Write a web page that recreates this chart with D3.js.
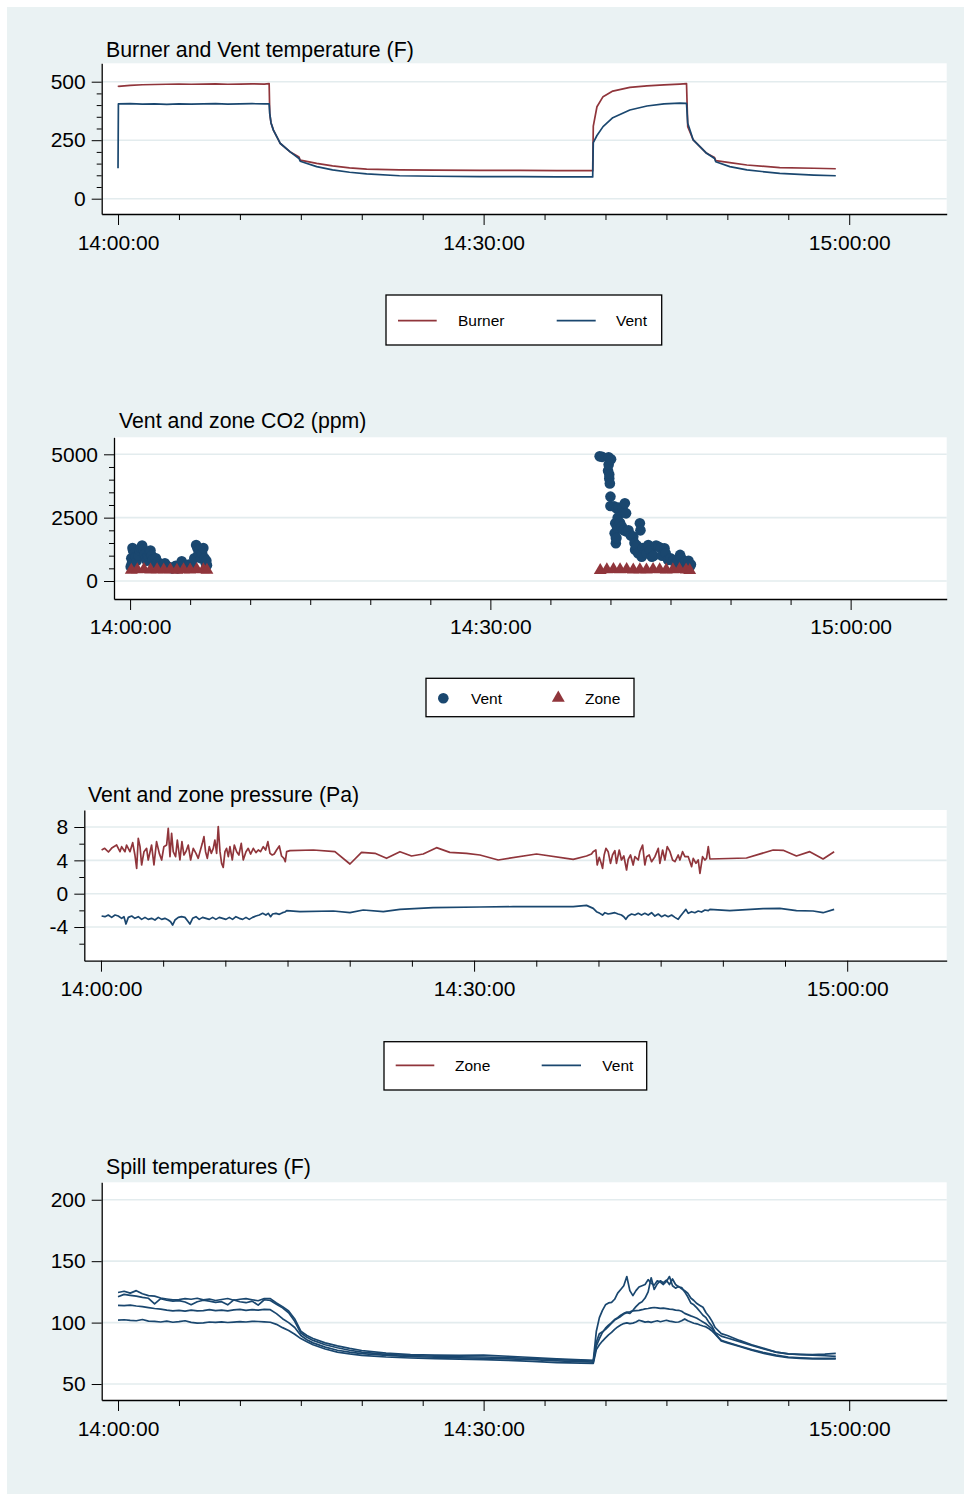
<!DOCTYPE html>
<html>
<head>
<meta charset="utf-8">
<script src="https://d3js.org/d3.v7.min.js"></script>
<style>
body { margin: 0; background: #fff; }
svg { display: block; font-family: "Liberation Sans", Arial, Helvetica, sans-serif; }
</style>
</head>
<body>
<svg width="964" height="1494"></svg>
<script>
// all times are minutes after 14:00:00

// burner and vent temperature (F)
var tempMinutes = [0, 0.03, 1, 2, 3, 4, 5, 6, 7, 8, 9, 10, 11, 12, 12.4, 12.45, 12.55, 12.75, 13.3, 14.1, 14.85, 14.95,
  16.3, 17.6, 19, 20.4, 23.1, 26, 29.7, 33, 36, 38.95, 39.0, 39.3, 39.8, 40.6, 42, 43.4, 44.8, 46.1, 46.65, 46.75,
  47.2, 48.3, 48.95, 49.05, 50.2, 51.6, 54.3, 57.1, 58.9];
var burnerTemp = [478, 480, 484, 487, 488, 489, 490, 489, 490, 491, 489, 490, 491, 490, 492, 365, 325, 293, 237, 201, 178, 165,
  151, 140, 132, 126, 123, 122, 121, 121, 120, 120, 310, 393, 436, 460, 476, 482, 486, 490, 492, 308,
  251, 194, 176, 163, 154, 144, 133, 130, 128];
var ventTemp = [130, 405, 406, 404, 405, 403, 405, 404, 405, 406, 404, 405, 406, 405, 405, 365, 325, 293, 237, 201, 172, 160,
  137, 123, 113, 106, 98, 96, 94, 94, 93, 93, 240, 270, 308, 346, 379, 396, 405, 408, 407, 322,
  251, 194, 172, 158, 137, 123, 108, 101, 98];

// vent and zone CO2 (ppm)
var co2VentMinutes = [0.05, 0.1, 0.15, 0.2, 0.25, 0.35, 0.45, 0.55, 0.7, 0.8, 0.9, 1.0, 1.1, 1.2, 1.3, 1.4, 1.5, 1.6, 1.7,
  1.8, 1.9, 2.0, 2.15, 2.3, 2.45, 2.6, 2.75, 2.9, 3.05, 3.2, 3.35, 3.5, 3.65, 3.8, 3.95, 4.1, 4.2, 4.3, 4.45, 4.6,
  4.75, 4.9, 5.05, 5.2, 5.35, 5.5, 5.6, 5.7, 5.8, 5.9, 6.0, 6.1, 6.2, 6.3, 6.35, 6.4,
  39.1, 39.3, 39.8, 39.85, 39.85, 39.9, 39.9, 39.95, 40.0, 40.0, 40.05, 40.3, 40.35, 40.4, 40.45, 40.45, 40.5, 40.5,
  40.55, 40.6, 40.7, 40.8, 40.95, 41.0, 41.1, 41.15, 41.2, 41.3, 41.35, 41.5, 41.7, 41.9, 42.0, 42.05, 42.2, 42.3,
  42.45, 42.5, 42.6, 42.7, 42.9, 43.0, 43.15, 43.3, 43.45, 43.6, 43.8, 44.0, 44.2, 44.3, 44.5, 44.6, 44.8, 45.0,
  45.25, 45.4, 45.6, 45.8, 45.9, 46.0, 46.25, 46.4, 46.5, 46.6, 46.7];
var co2Vent = [560, 900, 700, 1300, 1200, 1100, 950, 800, 1000, 1200, 1300, 1400, 1250, 1050, 900, 800, 1000, 1150, 1200,
  1000, 850, 700, 900, 750, 650, 600, 650, 700, 600, 550, 520, 500, 550, 600, 500, 550, 650, 780, 600, 600,
  550, 650, 600, 550, 900, 1420, 1300, 1100, 1250, 900, 1100, 1300, 900, 700, 800, 620,
  4920, 4900, 4350, 4880, 4600, 4050, 4200, 3850, 3330, 2960, 4800, 2950, 1880, 2280, 1490, 1700, 2870, 1700,
  2100, 2500, 2900, 2300, 2150, 2900, 2000, 2700, 3070, 2670, 1950, 2000, 1800, 1750, 1500, 1230, 1400, 1100,
  2280, 2000, 960, 1300, 1200, 1100, 1420, 1200, 960, 1000, 1400, 1350, 1300, 1000, 1290, 1100, 830, 900,
  830, 700, 800, 1030, 900, 700, 760, 600, 800, 560, 650];
var co2ZoneMinutes = [0.1, 0.6, 1.15, 1.7, 2.25, 2.8, 3.35, 3.9, 4.45, 5.0, 5.55, 6.1, 6.4,
  39.15, 39.7, 40.25, 40.8, 41.35, 41.9, 42.45, 43.0, 43.55, 44.1, 44.65, 45.2, 45.75, 46.3, 46.6];
var co2Zone = [430, 450, 460, 440, 450, 440, 450, 430, 450, 440, 460, 450, 430,
  420, 450, 460, 450, 460, 440, 450, 440, 460, 450, 440, 450, 460, 440, 420];

// vent and zone pressure (Pa)
var pressZoneMinutes = [0.05, 0.3, 0.6, 0.9, 1.26, 1.53, 1.66, 1.93, 2.06, 2.33, 2.55, 2.73, 2.87, 3.0, 3.14, 3.27, 3.46, 3.67,
  3.8, 4.07, 4.26, 4.47, 4.69, 4.88, 5.06, 5.28, 5.41, 5.55, 5.68, 5.81, 6.0, 6.14, 6.35, 6.51, 6.67, 6.83, 7.02,
  7.21, 7.42, 7.64, 7.82, 7.96, 8.15, 8.28, 8.41, 8.55, 8.71, 8.87, 9.03, 9.16, 9.3, 9.43, 9.57, 9.7, 9.83, 9.97,
  10.1, 10.24, 10.37, 10.56, 10.72, 10.91, 11.09, 11.28, 11.44, 11.66, 11.84, 12.03, 12.25, 12.46, 12.65, 12.83,
  13.05, 13.24, 13.42, 13.59, 13.77, 13.93, 14.12, 14.34, 14.52, 14.71, 14.82, 14.93,
  15.19, 17.07, 18.81, 20.02, 20.95, 22.03, 22.96, 24.04, 24.97, 25.91, 26.98, 28.05, 29.39, 30.47, 31.94, 35.02,
  37.97, 39.04, 39.44,
  39.57, 39.79, 39.9, 40.06, 40.22, 40.33, 40.46, 40.6, 40.78, 40.97, 41.13, 41.32, 41.45, 41.67, 41.85, 42.04,
  42.26, 42.39, 42.58, 42.79, 42.93, 43.2, 43.33, 43.55, 43.73, 43.87, 44.08, 44.27, 44.54, 44.81, 44.94, 45.16,
  45.34, 45.53, 45.75, 45.96, 46.15, 46.41, 46.55, 46.76, 46.95, 47.22, 47.49, 47.62, 47.84, 48.02, 48.16, 48.37,
  48.56, 48.69, 48.83, 48.96,
  51.9, 54.05, 54.85, 55.92, 56.99, 58.06, 58.95];
var pressZone = [5.24, 5.44, 5.0, 5.52, 5.84, 5.04, 5.64, 5.04, 5.84, 5.04, 6.12, 4.64, 3.04, 6.64, 5.64, 3.44, 5.04, 5.44,
  4.04, 5.84, 3.44, 6.24, 4.84, 4.04, 5.64, 5.84, 7.84, 4.44, 7.24, 5.04, 4.44, 6.44, 4.04, 6.24, 4.64, 5.04, 5.84,
  4.04, 5.44, 4.84, 4.24, 5.04, 6.04, 6.84, 5.04, 4.24, 5.64, 4.84, 5.44, 6.44, 4.84, 8.04, 5.04, 3.64, 3.16, 5.04,
  5.44, 4.44, 5.64, 4.04, 5.84, 5.04, 4.64, 6.04, 4.04, 5.04, 5.44, 4.76, 5.44, 4.92, 5.24, 5.04,
  5.64, 5.24, 6.24, 4.84, 4.64, 4.76, 5.24, 5.72, 4.52, 4.24, 3.84, 5.04,
  5.16, 5.24, 5.04, 3.56, 4.96, 4.84, 4.24, 5.04, 4.52, 4.76, 5.52, 4.96, 4.84, 4.64, 4.04, 4.76,
  4.12, 4.52, 4.76,
  5.04, 5.24, 3.44, 4.36, 3.64, 3.04, 4.64, 5.44, 5.04, 3.64, 4.64, 5.16, 3.64, 5.24, 4.04, 4.52,
  2.84, 4.12, 4.64, 3.44, 4.44, 4.04, 5.04, 5.84, 3.44, 4.44, 4.64, 3.84, 4.44, 5.44, 3.64, 5.24,
  4.04, 5.64, 5.04, 4.04, 3.84, 4.64, 4.04, 5.04, 4.44, 4.44, 3.24, 4.24, 3.64, 4.04, 2.44, 4.44,
  4.04, 4.24, 5.64, 4.16,
  4.28, 5.24, 5.2, 4.52, 5.04, 4.16, 5.04];
var pressVentMinutes = [0.05, 0.32, 0.59, 0.86, 1.13, 1.39, 1.66, 1.85, 2.01, 2.2, 2.47, 2.73, 3.0, 3.27, 3.54, 3.8, 4.07,
  4.34, 4.61, 4.88, 5.14, 5.41, 5.6, 5.76, 5.95, 6.22, 6.48, 6.75, 7.02, 7.15, 7.37, 7.64, 7.9, 8.17, 8.44, 8.71,
  8.98, 9.24, 9.51, 9.78, 10.05, 10.32, 10.58, 10.85, 11.12, 11.39, 11.66, 11.92, 12.19, 12.46, 12.73, 13.0, 13.26,
  13.45, 13.64, 13.8, 14.07, 14.34, 14.6, 14.79, 14.93,
  16.0, 18.68, 20.02, 21.09, 22.7, 24.04, 26.71, 30.47, 33.14, 35.82, 37.97, 39.04,
  39.58, 39.84, 40.11, 40.33, 40.52, 40.78, 41.05, 41.32, 41.58, 41.85, 42.04, 42.2, 42.39, 42.66, 42.93, 43.2,
  43.46, 43.73, 44.0, 44.27, 44.54, 44.81, 45.07, 45.34, 45.61, 45.88, 46.15, 46.41, 46.6, 46.81, 47.03, 47.22,
  47.49, 47.75, 48.02, 48.29, 48.56, 48.83, 48.96,
  50.56, 53.24, 54.58, 55.92, 57.26, 58.06, 58.95];
var pressVent = [-2.68, -2.76, -2.56, -2.84, -2.56, -2.68, -2.96, -2.76, -3.64, -2.84, -2.68, -2.96, -2.76, -3.08, -2.84,
  -3.08, -2.96, -3.16, -2.84, -3.08, -2.96, -3.16, -3.36, -3.76, -3.16, -2.84, -2.76, -2.84, -3.36, -3.64, -2.96,
  -2.76, -3.08, -2.84, -2.96, -3.08, -2.84, -3.08, -2.84, -2.96, -3.08, -2.84, -3.08, -2.76, -2.96, -3.08, -2.84,
  -3.08, -2.84, -2.68, -2.56, -2.36, -2.56, -2.36, -2.76, -2.44, -2.36, -2.48, -2.28, -2.2, -2.04,
  -2.16, -2.08, -2.28, -1.96, -2.16, -1.88, -1.68, -1.6, -1.56, -1.56, -1.56, -1.4,
  -1.76, -2.16, -2.36, -2.56, -2.28, -2.44, -2.36, -2.28, -2.44, -2.56, -2.76, -3.08, -2.68, -2.44, -2.56, -2.36,
  -2.56, -2.36, -2.56, -2.28, -2.68, -2.44, -2.76, -2.56, -2.76, -2.56, -2.84, -3.08, -2.68, -2.28, -1.88, -2.36,
  -2.16, -2.28, -2.08, -2.2, -1.96, -2.04, -1.88,
  -2.04, -1.8, -1.76, -2.04, -2.08, -2.28, -1.88];

// spill temperatures (F), four sensors
var spillMinutes = [0, 0.5, 1, 1.5, 2, 2.5, 3, 3.5, 4, 4.5, 5, 5.5, 6, 6.5, 7, 7.5, 8, 8.5, 9, 9.5, 10, 10.5, 11, 11.5, 12,
  12.5, 13, 13.5, 14, 14.5, 15, 15.5, 16, 17, 18, 19, 20, 22, 24, 26, 28, 30, 32, 34, 36, 38,
  39, 39.25, 39.5, 39.75, 40, 40.25, 40.5, 40.75, 41, 41.25, 41.5, 41.75, 42, 42.25, 42.5, 42.75, 43, 43.25, 43.5,
  43.75, 44, 44.25, 44.5, 44.75, 45, 45.25, 45.5, 45.75, 46, 46.25, 46.5, 46.75, 47, 47.25, 47.5, 47.75, 48, 48.25,
  48.5, 48.75, 49,
  49.5, 50, 51, 52, 53, 54, 55, 56, 57, 58, 58.9];
var spill1 = [102, 102.3, 101.8, 101.5, 102.5, 101.2, 101, 100.5, 101.2, 100.3, 100.8, 101.5, 100.2, 99.6, 99.8, 100.5,
  100.2, 100.6, 100.1, 100.4, 100.8, 100.5, 101, 100.9, 100.6,
  100.3, 98.6, 95.9, 93.5, 90.5, 87, 84.5, 82, 78.5, 76, 74.5, 73.3, 72, 71.2, 70.7, 70.3, 69.8, 69.3, 68.5, 67.5, 67,
  66.8, 78, 82, 85, 87.5, 90, 92, 94.5, 96.5, 98, 99.2, 99.8, 99.2, 99.6, 100.5, 101.9, 101.2, 100.4, 100.8, 100.2,
  100.9, 101.5, 100.7, 101.3, 101.9, 101.2, 100.8, 100.3, 100.5, 101.5, 103, 101.5, 100.5, 99.5, 99, 98, 97.2, 96.5,
  95, 93, 90.5,
  85, 83.5, 80.5, 77.5, 75, 72.8, 71.5, 70.9, 70.5, 70.4, 70.4];
var spill2 = [114, 113.8, 114.2, 113.5, 113, 112.2, 111.5, 111, 110.2, 109.6, 110, 109.4, 110.2, 109.5, 109.8, 110.5,
  109.7, 110.2, 109.6, 110.3, 110.8, 110, 110.5, 110.2, 110.8,
  110.5, 107.3, 103.2, 100, 96, 89.5, 86, 83.5, 80, 77.5, 76, 74.8, 73.3, 72.3, 71.8, 71.3, 71, 70.5, 69.8, 68.8, 68.2,
  67.8, 81, 87, 92, 95.5, 98, 100, 102.5, 104, 106, 107.5, 108.5, 108.8, 109.5, 109.8, 110, 110.5, 111.2, 111.5, 112,
  112.3, 112, 111.6, 111.8, 111.4, 111, 110.8, 110.2, 110, 109.2, 107.5, 106.5, 105.5, 104.6, 103.5, 102, 100.5, 99,
  97, 95, 91,
  85.5, 84, 81, 78, 75.5, 73.5, 72, 71.4, 71, 70.9, 71];
var spill3 = [121, 123, 122.2, 121.5, 120.5, 119.8, 115.2, 119.5, 118.2, 117.5, 117.9, 116.8, 114.6, 117, 118.2, 117.5,
  116.5, 117, 114.5, 118.5, 117, 116.2, 117.5, 114.2, 118.6,
  118, 115, 112, 108, 101, 91.5, 88, 85.5, 82, 79.5, 77.5, 76, 74.2, 73.2, 72.6, 72.2, 72, 71.5, 70.8, 69.8, 69.2,
  68.8, 84, 91, 92.5, 94.5, 97, 99.5, 102, 103.5, 105, 107, 108, 107.5, 110, 113, 115.5, 117, 120, 125, 136.5,
  127, 131.5, 134, 132.5, 134.5, 131, 135.5, 131, 129, 128.5, 125, 121, 116, 114.5, 112, 109, 106, 104,
  100, 97, 92,
  89, 87.5, 84.5, 81.5, 78.5, 76, 74.6, 74, 73.5, 73, 72.5];
var spill4 = [124.5, 125.5, 124, 126, 123.5, 122, 121.5, 120, 119.2, 118.5, 118.8, 119.5, 119, 119.8, 118.5, 119.2,
  118, 118.8, 119.6, 118.2, 119, 119.5, 118.6, 117.8, 119.6,
  119.5, 116, 113, 109.5, 103, 93, 89.5, 87, 83.5, 81, 79, 77.3, 75.2, 74, 73.5, 73.4, 73.5, 72.6, 71.6, 70.4, 69.6,
  69.2, 93, 104, 110, 114.5, 116, 116.5, 119, 124, 127, 130, 137.5, 126, 122, 126, 129, 130, 131, 135, 132,
  130.5, 134, 133, 131, 133.5, 137.5, 130, 128, 129.5, 127.5, 126, 124, 120, 118, 115.5, 114, 112.5, 108,
  105, 101, 96,
  91, 89.5, 85.5, 82, 79, 76, 74.5, 74.2, 74, 74.3, 75];

// x axis ticks (minutes) shared by all four graphs
var majorMinutes = [0, 30, 60];
var minorMinutes = [5, 10, 15, 20, 25, 35, 40, 45, 50, 55];

var navy = "#1a476f",
    maroon = "#90353b",
    bgColor = "#eaf2f3",
    gridColor = "#e3ecee",
    fontFam = "'Liberation Sans', Arial, Helvetica, sans-serif";

var start = new Date(2000, 0, 1, 14, 0, 0);
function toTime(m) { return new Date(start.getTime() + m * 60000); }
var timeFmt = d3.timeFormat("%H:%M:%S");

function rows(ts, vs) {
  return ts.map(function (t, i) { return {t: t, v: vs[i]}; });
}

var svg = d3.select("svg");

// graph region background
svg.append("rect")
    .attr("x", 7).attr("y", 7)
    .attr("width", 957).attr("height", 1487)
    .attr("fill", bgColor);

// build one graph: plot area, grid, axes and title
function makePanel(p) {
  var x = d3.scaleTime().domain([toTime(-1.34), toTime(68)]).range([p.left, 946.7]);
  var y = d3.scaleLinear().domain(p.yDomain).range([p.bottom, p.top]);
  var g = svg.append("g");

  g.append("rect")
      .attr("x", p.left).attr("y", p.top)
      .attr("width", 946.7 - p.left).attr("height", p.bottom - p.top)
      .attr("fill", "#fff");

  g.selectAll(".grid")
    .data(p.yMajor)
    .enter().append("line")
      .attr("x1", p.left).attr("x2", 946.7)
      .attr("y1", function (d) { return y(d); })
      .attr("y2", function (d) { return y(d); })
      .attr("stroke", gridColor)
      .attr("stroke-width", 1.6);

  var data = g.append("g");

  // y axis with major and minor ticks
  var ya = g.append("g")
      .attr("transform", "translate(" + p.left + ",0)")
      .call(d3.axisLeft(y).tickValues(p.yMajor).tickSize(10).tickSizeOuter(0).tickPadding(6)
        .tickFormat(function (d) { return String(d); }));
  if (p.yMinor.length) {
    g.append("g")
        .attr("transform", "translate(" + p.left + ",0)")
        .call(d3.axisLeft(y).tickValues(p.yMinor).tickSize(5).tickFormat(""))
        .select(".domain").remove();
  }

  // x axis with time labels
  var xa = g.append("g")
      .attr("transform", "translate(0," + p.bottom + ")")
      .call(d3.axisBottom(x).tickValues(majorMinutes.map(toTime)).tickSize(11).tickSizeOuter(0)
        .tickPadding(p.labelPad).tickFormat(timeFmt));
  g.append("g")
      .attr("transform", "translate(0," + p.bottom + ")")
      .call(d3.axisBottom(x).tickValues(minorMinutes.map(toTime)).tickSize(6).tickFormat(""))
      .select(".domain").remove();

  [ya, xa].forEach(function (a) {
    a.attr("font-size", 21).attr("font-family", fontFam);
    a.selectAll("text").attr("fill", "#000");
    a.select(".domain").attr("stroke-width", 1.3);
  });

  g.append("text")
      .attr("x", p.titleX).attr("y", p.titleY)
      .attr("font-size", 21.3)
      .text(p.title);

  return {x: x, y: y, g: data};
}

function drawLine(pn, ts, vs, color) {
  var line = d3.line()
      .x(function (d) { return pn.x(toTime(d.t)); })
      .y(function (d) { return pn.y(d.v); });
  pn.g.append("path")
      .datum(rows(ts, vs))
      .attr("d", line)
      .attr("fill", "none")
      .attr("stroke", color)
      .attr("stroke-width", 1.7)
      .attr("stroke-linejoin", "round");
}

function legendBox(x0, y0, w, h) {
  svg.append("rect")
      .attr("x", x0).attr("y", y0)
      .attr("width", w).attr("height", h)
      .attr("fill", "#fff")
      .attr("stroke", "#000")
      .attr("stroke-width", 1.3);
}

function legendLine(x1, x2, ly, color) {
  svg.append("line")
      .attr("x1", x1).attr("x2", x2)
      .attr("y1", ly).attr("y2", ly)
      .attr("stroke", color).attr("stroke-width", 1.7);
}

function legendText(tx, ty, s) {
  svg.append("text").attr("x", tx).attr("y", ty).attr("font-size", 15.5).text(s);
}

// ---- graph 1: burner and vent temperature
var p1 = makePanel({left: 101.7, top: 63.3, bottom: 214, yDomain: [-65.4, 578.6],
  yMajor: [0, 250, 500], yMinor: [50, 100, 150, 200, 300, 350, 400, 450],
  title: "Burner and Vent temperature (F)", titleX: 106, titleY: 56.5, labelPad: 10.5});
drawLine(p1, tempMinutes, burnerTemp, maroon);
drawLine(p1, tempMinutes, ventTemp, navy);

legendBox(386, 295, 275.7, 50);
legendLine(398, 436.7, 320.7, maroon);
legendText(458, 326, "Burner");
legendLine(556.7, 595.7, 320.7, navy);
legendText(616, 326, "Vent");

// ---- graph 2: vent and zone CO2
var p2 = makePanel({left: 114, top: 437.3, bottom: 599, yDomain: [-710, 5671],
  yMajor: [0, 2500, 5000], yMinor: [500, 1000, 1500, 2000, 3000, 3500, 4000, 4500],
  title: "Vent and zone CO2 (ppm)", titleX: 119, titleY: 428, labelPad: 9});

p2.g.selectAll(".vent")
  .data(rows(co2VentMinutes, co2Vent))
  .enter().append("circle")
    .attr("cx", function (d) { return p2.x(toTime(d.t)); })
    .attr("cy", function (d) { return p2.y(d.v); })
    .attr("r", 5.3)
    .attr("fill", navy);

var tri = d3.symbol().type(d3.symbolTriangle).size(72);
p2.g.selectAll(".zone")
  .data(rows(co2ZoneMinutes, co2Zone))
  .enter().append("path")
    .attr("d", tri)
    .attr("transform", function (d) {
      return "translate(" + p2.x(toTime(d.t)) + "," + p2.y(d.v) + ")";
    })
    .attr("fill", maroon);

legendBox(426, 678.3, 208, 38.4);
svg.append("circle").attr("cx", 443.3).attr("cy", 698.3).attr("r", 5.3).attr("fill", navy);
legendText(471, 704, "Vent");
svg.append("path").attr("d", tri).attr("transform", "translate(558.3,698)").attr("fill", maroon);
legendText(585, 704, "Zone");

// ---- graph 3: vent and zone pressure
var p3 = makePanel({left: 84.3, top: 810, bottom: 960.7, yDomain: [-8.04, 10.04],
  yMajor: [-4, 0, 4, 8], yMinor: [-6, -2, 2, 6],
  title: "Vent and zone pressure (Pa)", titleX: 88, titleY: 801.5, labelPad: 9});
drawLine(p3, pressZoneMinutes, pressZone, maroon);
drawLine(p3, pressVentMinutes, pressVent, navy);

legendBox(384, 1041.7, 262.7, 48.3);
legendLine(395.7, 434.3, 1065.3, maroon);
legendText(455, 1071.3, "Zone");
legendLine(541.7, 581, 1065.3, navy);
legendText(602.3, 1071.3, "Vent");

// ---- graph 4: spill temperatures
var p4 = makePanel({left: 101.7, top: 1182.3, bottom: 1400, yDomain: [37, 214.2],
  yMajor: [50, 100, 150, 200], yMinor: [],
  title: "Spill temperatures (F)", titleX: 106, titleY: 1174, labelPad: 10.5});
[spill1, spill2, spill3, spill4].forEach(function (s) {
  drawLine(p4, spillMinutes, s, navy);
});
</script>
</body>
</html>
